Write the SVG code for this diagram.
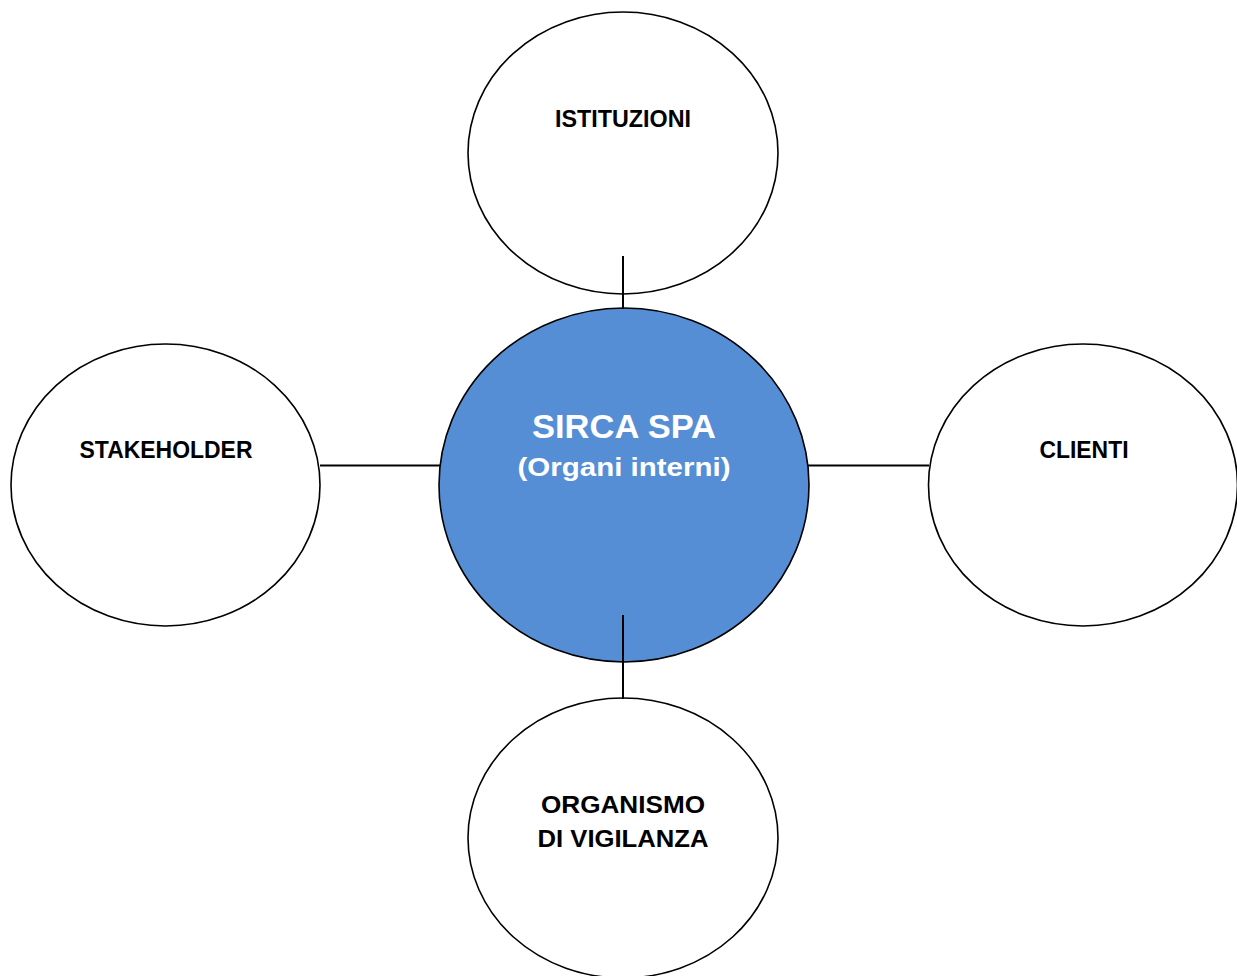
<svg xmlns="http://www.w3.org/2000/svg" width="1237" height="976" viewBox="0 0 1237 976">
<style>
.n{fill:#ffffff;stroke:#000000;stroke-width:1.6}
.c{fill:#558ED5;stroke:#000000;stroke-width:1.6}
.t{font-family:"Liberation Sans",Arial,sans-serif;font-weight:bold;font-size:23px;fill:#000000;text-anchor:middle}
.w{font-family:"Liberation Sans",Arial,sans-serif;font-weight:bold;fill:#ffffff;text-anchor:middle}
.l{stroke:#000000;stroke-width:2;fill:none}
</style>
<rect width="1237" height="976" fill="#ffffff"/>
<g id="istituzioni">
<ellipse class="n" cx="623" cy="153" rx="155" ry="141"/>
<text class="t" x="623" y="127" textLength="136" lengthAdjust="spacingAndGlyphs">ISTITUZIONI</text>
</g>
<g id="stakeholder">
<ellipse class="n" cx="165.5" cy="485" rx="154.5" ry="141"/>
<text class="t" x="166" y="458" textLength="173" lengthAdjust="spacingAndGlyphs">STAKEHOLDER</text>
</g>
<g id="clienti">
<ellipse class="n" cx="1083" cy="485" rx="154.5" ry="141"/>
<text class="t" x="1084" y="458" textLength="89" lengthAdjust="spacingAndGlyphs">CLIENTI</text>
</g>
<g id="organismo">
<ellipse class="n" cx="623" cy="838" rx="155" ry="140"/>
<text class="t" x="623" y="813" textLength="164" lengthAdjust="spacingAndGlyphs">ORGANISMO</text>
<text class="t" x="623" y="847" textLength="171" lengthAdjust="spacingAndGlyphs">DI VIGILANZA</text>
</g>
<g id="sirca">
<ellipse class="c" cx="624" cy="485" rx="185" ry="177"/>
<text class="w" x="624" y="438" font-size="33" textLength="184" lengthAdjust="spacingAndGlyphs">SIRCA SPA</text>
<text class="w" x="624" y="476" font-size="26" textLength="213" lengthAdjust="spacingAndGlyphs">(Organi interni)</text>
</g>
<g id="connectors">
<line class="l" x1="623" y1="256" x2="623" y2="309"/>
<line class="l" x1="623" y1="615" x2="623" y2="699"/>
<line class="l" x1="320" y1="465.5" x2="440" y2="465.5"/>
<line class="l" x1="808" y1="465.5" x2="929" y2="465.5"/>
</g>
</svg>
